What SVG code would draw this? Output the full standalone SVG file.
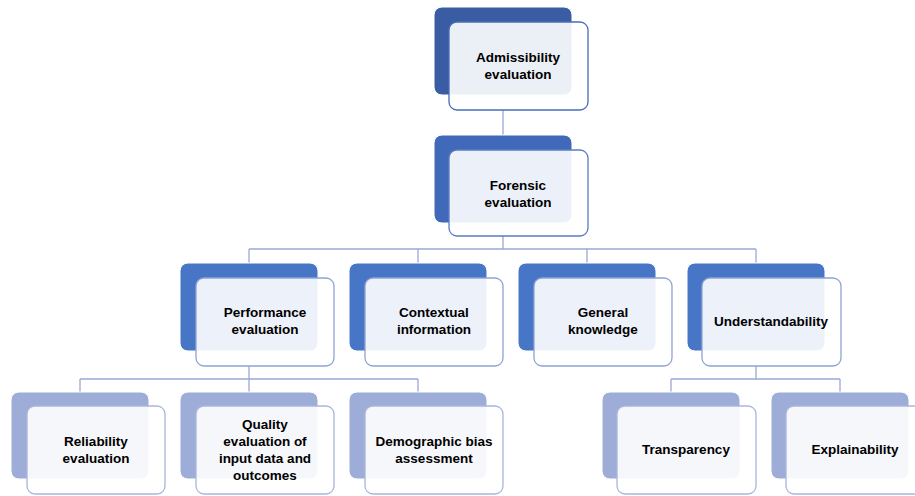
<svg xmlns="http://www.w3.org/2000/svg" width="915" height="496" viewBox="0 0 915 496">
<style>
.back{stroke:#ffffff;stroke-width:1}
.l1{fill:#3A5CA3}
.l2{fill:#4169BA}
.l3{fill:#4876C6}
.l4{fill:#9EADD8}
.front{fill:#ffffff;fill-opacity:0.9;stroke-width:1.3}
.f1{stroke:#4A6CB6}
.f2{stroke:#5A7CC2}
.f3{stroke:#8FA3D3}
.f4{stroke:#A9B6DC}
.conn{fill:none;stroke:#9AA8D4;stroke-width:1.3}
text{font-family:"Liberation Sans",Arial,sans-serif;font-weight:bold;font-size:13.5px;fill:#000;text-anchor:middle}
</style>
<rect width="915" height="496" fill="#ffffff"/>
<g id="connectors">
<path class="conn" d="M503 110 V135"/>
<path class="conn" d="M503 236 V249 M249 249 H756 M249 249 V263 M418 249 V263 M587 249 V263 M756 249 V263"/>
<path class="conn" d="M249 366 V379 M80 379 H418 M80 379 V392 M249 379 V392 M418 379 V392"/>
<path class="conn" d="M756 366 V379 M671 379 H840 M671 379 V392 M840 379 V392"/>
</g>
<g id="n-admissibility">
<rect class="back l1" x="434" y="7" width="138" height="88" rx="8"/>
<rect class="front f1" x="449" y="22" width="139" height="88" rx="8"/>
<text x="518" y="62">Admissibility</text><text x="518" y="79">evaluation</text>
</g>
<g id="n-forensic">
<rect class="back l2" x="434" y="135" width="138" height="88" rx="8"/>
<rect class="front f2" x="449" y="150" width="139" height="86" rx="8"/>
<text x="518" y="190">Forensic</text><text x="518" y="207">evaluation</text>
</g>
<g id="n-performance">
<rect class="back l3" x="180" y="263" width="138" height="88" rx="8"/>
<rect class="front f3" x="196" y="278" width="138" height="88" rx="8"/>
<text x="265" y="317">Performance</text><text x="265" y="334">evaluation</text>
</g>
<g id="n-contextual">
<rect class="back l3" x="349" y="263" width="138" height="88" rx="8"/>
<rect class="front f3" x="365" y="278" width="138" height="88" rx="8"/>
<text x="434" y="317">Contextual</text><text x="434" y="334">information</text>
</g>
<g id="n-general">
<rect class="back l3" x="518" y="263" width="138" height="88" rx="8"/>
<rect class="front f3" x="534" y="278" width="138" height="88" rx="8"/>
<text x="603" y="317">General</text><text x="603" y="334">knowledge</text>
</g>
<g id="n-understandability">
<rect class="back l3" x="687" y="263" width="138" height="88" rx="8"/>
<rect class="front f3" x="702" y="278" width="139" height="88" rx="8"/>
<text x="771" y="326">Understandability</text>
</g>
<g id="n-reliability">
<rect class="back l4" x="11" y="392" width="138" height="87" rx="8"/>
<rect class="front f4" x="27" y="406" width="138" height="88" rx="8"/>
<text x="96" y="446">Reliability</text><text x="96" y="463">evaluation</text>
</g>
<g id="n-quality">
<rect class="back l4" x="180" y="392" width="138" height="87" rx="8"/>
<rect class="front f4" x="196" y="406" width="138" height="88" rx="8"/>
<text x="265" y="429">Quality</text><text x="265" y="446">evaluation of</text><text x="265" y="463">input data and</text><text x="265" y="480">outcomes</text>
</g>
<g id="n-demographic">
<rect class="back l4" x="349" y="392" width="138" height="87" rx="8"/>
<rect class="front f4" x="365" y="406" width="138" height="88" rx="8"/>
<text x="434" y="446">Demographic bias</text><text x="434" y="463">assessment</text>
</g>
<g id="n-transparency">
<rect class="back l4" x="602" y="392" width="138" height="87" rx="8"/>
<rect class="front f4" x="617" y="406" width="139" height="88" rx="8"/>
<text x="686" y="454">Transparency</text>
</g>
<g id="n-explainability">
<rect class="back l4" x="771" y="392" width="138" height="87" rx="8"/>
<rect class="front f4" x="786" y="406" width="139" height="88" rx="8"/>
<text x="855" y="454">Explainability</text>
</g>
</svg>
